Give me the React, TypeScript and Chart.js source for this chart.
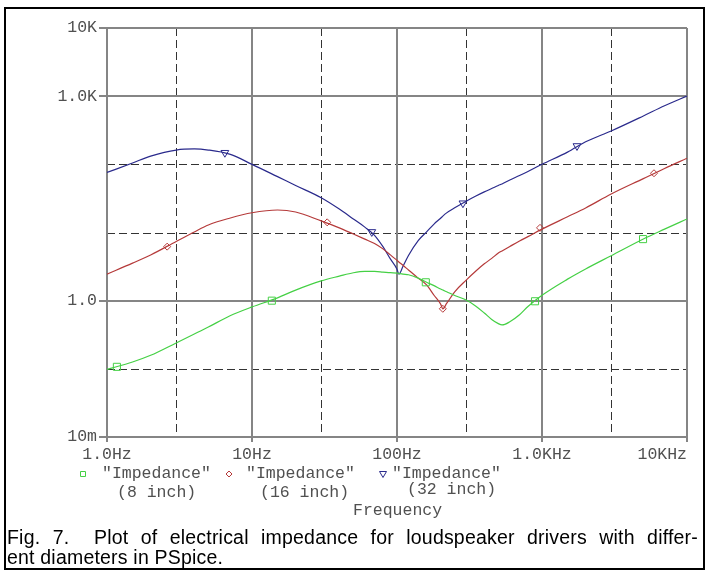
import React, { useEffect, useRef } from 'react';
import { Chart, registerables } from 'chart.js';

Chart.register(...registerables);

// ---- data ----
const FREQ = [1, 1.5, 2, 3, 4, 5, 7, 10, 15, 20, 30, 40, 50, 60, 70, 80, 90, 100, 103, 110, 120, 140, 160, 180, 200, 207, 220, 250, 300, 350, 400, 450, 500, 530, 600, 700, 800, 1000, 1500, 2000, 3000, 5000, 7000, 10000];

const Z_8_INCH = [0.098, 0.126, 0.158, 0.24, 0.324, 0.41, 0.596, 0.81, 1.1, 1.43, 1.95, 2.29, 2.57, 2.69, 2.69, 2.63, 2.57, 2.54, 2.51, 2.45, 2.4, 2.14, 1.86, 1.66, 1.48, 1.43, 1.35, 1.19, 1.02, 0.83, 0.66, 0.53, 0.46, 0.44, 0.49, 0.62, 0.82, 1.2, 2.07, 2.92, 4.57, 8.04, 11.2, 15.8];

const Z_16_INCH = [2.45, 3.55, 4.68, 7.4, 10.2, 12.9, 16.2, 19.5, 21.4, 20, 14.8, 11.7, 9.5, 8.0, 6.9, 5.75, 4.7, 3.9, 3.7, 3.3, 2.82, 2.14, 1.7, 1.2, 0.89, 0.76, 0.91, 1.35, 2.0, 2.72, 3.47, 4.17, 5.0, 5.37, 6.24, 7.5, 8.7, 11.2, 17, 22.9, 36.7, 61.7, 87, 123];

const Z_32_INCH = [75.9, 104.7, 131.8, 162, 168, 162, 141, 100, 66, 49, 32.4, 22.1, 15.8, 12.0, 9.1, 6.2, 4.1, 2.9, 2.45, 3.2, 4.6, 7.6, 10.2, 13.3, 16.2, 17.4, 19.4, 23, 28.8, 34.3, 39.4, 44.2, 49, 51.5, 59, 68.4, 78.5, 100, 151, 214, 309, 513, 724, 1000];

const MARK_8_F = [1.17, 13.7, 158, 895, 4975];
const MARK_8_V = [0.107, 1.0, 1.86, 0.98, 8.0];
const MARK_16_F = [2.6, 33, 207, 969, 5920];
const MARK_16_V = [6.2, 14.1, 0.76, 11.7, 74];
const MARK_32_F = [6.5, 67, 285, 1743];
const MARK_32_V = [148, 10.2, 26.9, 186];

const SERIES_NAMES = ['"Impedance"', '"Impedance"', '"Impedance"'];
const SERIES_SUBS = ['(8 inch)', '(16 inch)', '(32 inch)'];
const SERIES_COLORS = ['#45d045', '#b53a3a', '#2a2a8c'];

const X_TICKS = [1, 10, 100, 1000, 10000];
const X_TICK_LABELS = ['1.0Hz', '10Hz', '100Hz', '1.0KHz', '10KHz'];
const X_DASH = [3, 30, 300, 3000];
const Y_TICKS = [0.01, 1, 1000, 10000];
const Y_TICK_LABELS = ['10m', '1.0', '1.0K', '10K'];
const Y_DASH = [0.1, 10, 100];
const X_TITLE = 'Frequency';
const CAPTION_LINES = [
  'Fig. 7.  Plot of electrical impedance for loudspeaker drivers with differ-',
  'ent diameters in PSpice.',
];

const MONO = '16.5px "Courier New", "Nimbus Mono PS", FreeMono, "Liberation Mono", monospace';
const TEXT_COLOR = '#505050';

function pts(fs: number[], vs: number[]) {
  return fs.map((f, i) => ({ x: f, y: vs[i] }));
}

const pspicePlugin = {
  id: 'pspice',
  beforeDatasetsDraw(chart: any) {
    const { ctx, chartArea: a, scales } = chart;
    const x = scales.x;
    const y = scales.y;
    ctx.save();
    // dashed grid
    ctx.strokeStyle = '#333333';
    ctx.lineWidth = 1;
    ctx.setLineDash([8, 4]);
    X_DASH.forEach((f) => {
      const px = Math.round(x.getPixelForValue(f)) + 0.5;
      ctx.beginPath();
      ctx.moveTo(px, a.top);
      ctx.lineTo(px, a.bottom);
      ctx.stroke();
    });
    Y_DASH.forEach((v) => {
      const py = Math.round(y.getPixelForValue(v)) + 0.5;
      ctx.beginPath();
      ctx.moveTo(a.left, py);
      ctx.lineTo(a.right, py);
      ctx.stroke();
    });
    // solid grid + ticks
    ctx.setLineDash([]);
    ctx.strokeStyle = '#858585';
    ctx.lineWidth = 2;
    X_TICKS.forEach((f) => {
      const px = Math.round(x.getPixelForValue(f));
      ctx.beginPath();
      ctx.moveTo(px, a.top);
      ctx.lineTo(px, a.bottom + 5);
      ctx.stroke();
    });
    Y_TICKS.forEach((v) => {
      const py = Math.round(y.getPixelForValue(v));
      ctx.beginPath();
      ctx.moveTo(a.left - 8, py);
      ctx.lineTo(a.right, py);
      ctx.stroke();
    });
    ctx.restore();
  },
  afterDraw(chart: any) {
    const { ctx, chartArea: a, scales } = chart;
    const x = scales.x;
    const y = scales.y;
    ctx.save();
    ctx.font = MONO;
    ctx.fillStyle = TEXT_COLOR;
    ctx.textBaseline = 'middle';
    ctx.textAlign = 'right';
    Y_TICKS.forEach((v, i) => {
      ctx.fillText(Y_TICK_LABELS[i], a.left - 10, y.getPixelForValue(v));
    });
    ctx.textAlign = 'center';
    X_TICKS.forEach((f, i) => {
      const lbl = X_TICK_LABELS[i];
      const w = ctx.measureText(lbl).width;
      let cx = x.getPixelForValue(f);
      if (cx + w / 2 > a.right) cx = a.right - w / 2;
      ctx.fillText(lbl, cx, a.bottom + 18);
    });
    // legend
    const rowY = a.bottom + 37;
    const markX = [83, 229, 383];
    const nameX = [102, 246, 392];
    const subX = [117, 260, 407];
    const subY = [rowY + 19, rowY + 19, rowY + 16];
    ctx.textAlign = 'left';
    for (let i = 0; i < 3; i++) {
      ctx.fillStyle = TEXT_COLOR;
      ctx.fillText(SERIES_NAMES[i], nameX[i], rowY);
      ctx.fillText(SERIES_SUBS[i], subX[i], subY[i]);
      ctx.strokeStyle = SERIES_COLORS[i];
      ctx.lineWidth = 1;
      const mx = markX[i];
      ctx.beginPath();
      if (i === 0) {
        ctx.rect(mx - 2.5, rowY - 2.5, 5, 5);
      } else if (i === 1) {
        ctx.moveTo(mx, rowY - 3);
        ctx.lineTo(mx + 3, rowY);
        ctx.lineTo(mx, rowY + 3);
        ctx.lineTo(mx - 3, rowY);
        ctx.closePath();
      } else {
        ctx.moveTo(mx - 3.5, rowY - 2.5);
        ctx.lineTo(mx + 3.5, rowY - 2.5);
        ctx.lineTo(mx, rowY + 3.5);
        ctx.closePath();
      }
      ctx.stroke();
    }
    ctx.fillStyle = TEXT_COLOR;
    ctx.fillText(X_TITLE, 353, a.bottom + 74);
    ctx.restore();
  },
};

export default function App() {
  const ref = useRef<HTMLCanvasElement | null>(null);

  useEffect(() => {
    if (!ref.current) return;
    const lineDs = (data: number[], color: string) => ({
      data: pts(FREQ, data),
      borderColor: color,
      backgroundColor: color,
      borderWidth: 1.2,
      pointRadius: 0,
      cubicInterpolationMode: 'monotone' as const,
      fill: false,
    });
    const markDs = (fs: number[], vs: number[], color: string, style: string, r: number, rot: number) => ({
      data: pts(fs, vs),
      showLine: false,
      borderColor: color,
      backgroundColor: 'rgba(0,0,0,0)',
      pointStyle: style,
      pointRadius: r,
      pointRotation: rot,
      pointBorderWidth: 1,
    });
    const chart = new Chart(ref.current, {
      type: 'line',
      data: {
        datasets: [
          markDs(MARK_8_F, MARK_8_V, SERIES_COLORS[0], 'rect', 5, 0),
          markDs(MARK_16_F, MARK_16_V, SERIES_COLORS[1], 'rectRot', 3.5, 0),
          markDs(MARK_32_F, MARK_32_V, SERIES_COLORS[2], 'triangle', 4.5, 180),
          lineDs(Z_8_INCH, SERIES_COLORS[0]),
          lineDs(Z_16_INCH, SERIES_COLORS[1]),
          lineDs(Z_32_INCH, SERIES_COLORS[2]),
        ] as any,
      },
      options: {
        animation: false,
        responsive: false,
        layout: { padding: { left: 0, top: 28, right: 20, bottom: 0 } },
        plugins: { legend: { display: false }, tooltip: { enabled: false } },
        scales: {
          x: {
            type: 'logarithmic',
            min: 1,
            max: 10000,
            grid: { display: false },
            border: { display: false },
            ticks: { display: false },
            afterFit: (s: any) => {
              s.height = 135;
            },
          },
          y: {
            type: 'logarithmic',
            min: 0.01,
            max: 10000,
            grid: { display: false },
            border: { display: false },
            ticks: { display: false },
            afterFit: (s: any) => {
              s.width = 107;
            },
          },
        },
      },
      plugins: [pspicePlugin],
    } as any);
    return () => chart.destroy();
  }, []);

  return (
    <div style={{ position: 'fixed', left: 0, top: 0, width: 707, height: 572, background: '#fff', overflow: 'hidden' }}>
      <canvas ref={ref} width={707} height={572} style={{ position: 'absolute', left: 0, top: 0, width: 707, height: 572 }} />
      <div
        style={{
          position: 'absolute',
          left: 7,
          top: 527,
          width: 691,
          fontFamily: '"Liberation Sans", Arial, sans-serif',
          fontSize: 19.5,
          letterSpacing: '0.2px',
          lineHeight: '20px',
          color: '#000',
        }}
      >
        <div style={{ whiteSpace: 'pre-wrap', textAlign: 'justify', textAlignLast: 'justify' as any }}>{CAPTION_LINES[0]}</div>
        <div style={{ whiteSpace: 'pre' }}>{CAPTION_LINES[1]}</div>
      </div>
      <div
        style={{
          position: 'absolute',
          left: 4,
          top: 7,
          width: 701,
          height: 563,
          border: '2px solid #000',
          boxSizing: 'border-box',
          pointerEvents: 'none',
        }}
      />
    </div>
  );
}
